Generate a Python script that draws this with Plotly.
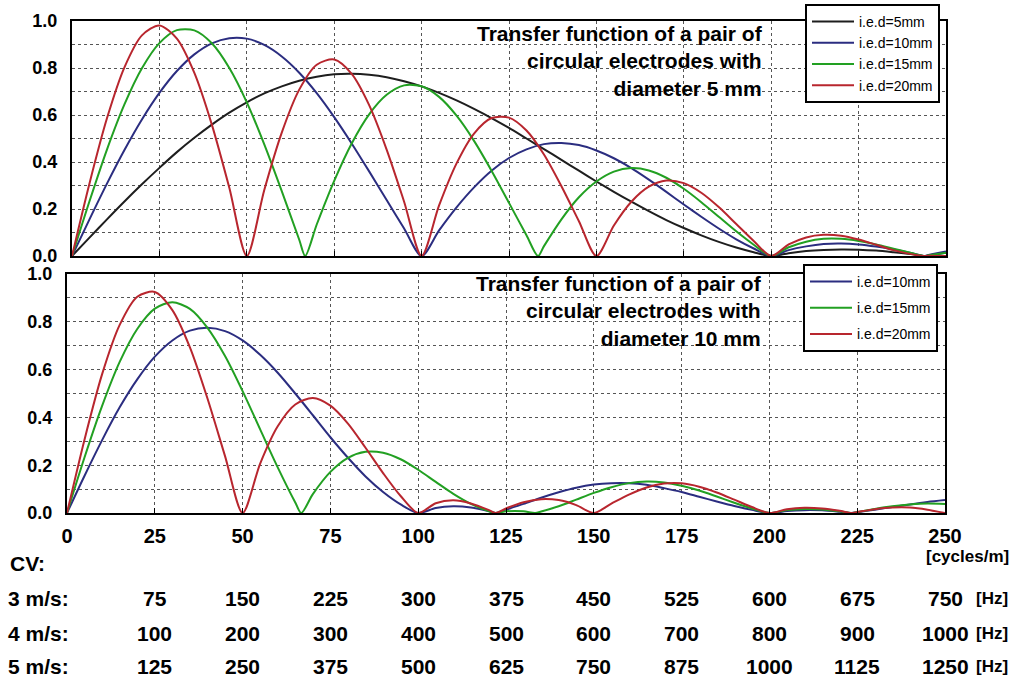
import plotly.graph_objects as go

# ---------------- data ----------------
# Top panel: electrode diameter 5 mm
k_top = [0, 5, 10, 15, 20, 25, 30, 35, 40, 45, 50, 55, 60, 65, 70, 75, 80, 85, 90, 95,
         100, 105, 110, 115, 120, 125, 130, 135, 140, 145, 150, 155, 160, 165, 170, 175,
         180, 185, 190, 195, 200, 205, 210, 215, 220, 225, 230, 235, 240, 244, 245, 250]
k_top_green = [0, 5, 10, 15, 20, 25, 30, 35, 40, 45, 50, 55, 60, 65, 66.7, 70, 75, 80, 85, 90, 95,
               100, 105, 110, 115, 120, 125, 130, 133.3, 135, 140, 145, 150, 155, 160, 165, 170, 175,
               180, 185, 190, 195, 200, 205, 210, 215, 220, 225, 230, 235, 240, 244, 245, 250]

top_ied5 = [0, .078, .156, .232, .305, .375, .442, .503, .559, .610, .654, .692, .722, .746, .763, .773,
            .775, .771, .761, .744, .722, .694, .662, .626, .587, .545, .500, .455, .409, .363, .317,
            .273, .231, .191, .153, .119, .088, .060, .036, .016, 0, .012, .021, .026, .028, .027,
            .023, .016, .008, 0, .002, .014]
top_ied10 = [0, .156, .308, .451, .581, .694, .787, .858, .905, .927, .925, .898, .849, .780, .693, .591,
             .479, .360, .238, .117, 0, .109, .207, .292, .363, .417, .454, .476, .481, .472, .449,
             .416, .374, .325, .273, .219, .167, .117, .071, .032, 0, .025, .041, .051, .053, .049,
             .040, .028, .013, 0, .004, .019]
top_ied15 = [0, .233, .453, .645, .799, .906, .961, .960, .905, .800, .654, .475, .276, .069, 0, .134,
             .320, .479, .603, .686, .726, .722, .677, .597, .490, .363, .226, .088, 0, .042, .156,
             .250, .317, .359, .374, .364, .333, .286, .229, .167, .105, .048, 0, .037, .061, .073,
             .073, .064, .049, .031, .013, 0, .003, .014]
top_ied20 = [0, .309, .586, .803, .939, .981, .925, .779, .559, .290, 0, .281, .525, .708, .814, .836,
             .775, .642, .453, .231, 0, .215, .394, .521, .587, .589, .534, .432, .297, .148, 0,
             .130, .231, .295, .321, .310, .269, .208, .136, .064, 0, .049, .079, .090, .086, .070,
             .048, .025, .008, 0, .001, 0]

# Bottom panel: electrode diameter 10 mm
k_bot = [0, 5, 10, 15, 20, 25, 30, 35, 40, 45, 50, 55, 60, 65, 70, 75, 80, 85, 90, 95,
         100, 105, 110, 115, 120, 122, 125, 130, 135, 140, 145, 150, 155, 160, 165, 170, 175,
         180, 185, 190, 195, 200, 205, 210, 215, 220, 223.3, 225, 230, 235, 240, 245, 250]
k_bot_green = [0, 5, 10, 15, 20, 25, 30, 35, 40, 45, 50, 55, 60, 65, 66.7, 70, 75, 80, 85, 90, 95,
               100, 105, 110, 115, 120, 122, 125, 130, 133.3, 135, 140, 145, 150, 155, 160, 165, 170, 175,
               180, 185, 190, 195, 200, 205, 210, 215, 220, 223.3, 225, 230, 235, 240, 245, 250]

bot_ied10 = [0, .156, .305, .442, .559, .654, .722, .763, .775, .761, .722, .662, .587, .500, .409, .317,
             .231, .153, .088, .036, 0, .021, .028, .023, .008, 0, .014, .038, .064, .087, .106, .119,
             .125, .125, .118, .104, .088, .068, .048, .029, .013, 0, .008, .012, .011, .005, 0,
             .003, .014, .025, .036, .046, .054]
bot_ied15 = [0, .233, .448, .632, .770, .855, .882, .854, .775, .657, .510, .350, .191, .044, 0, .079,
             .172, .231, .256, .252, .225, .181, .130, .080, .038, .008, 0, .007, .007, 0, .006, .028,
             .056, .084, .108, .125, .132, .128, .114, .094, .069, .043, .019, 0, .012, .017, .015,
             .007, 0, .004, .017, .028, .036, .040, .038]
bot_ied20 = [0, .308, .581, .787, .905, .925, .849, .693, .479, .238, 0, .207, .363, .454, .481, .449,
             .374, .273, .167, .071, 0, .041, .053, .040, .013, 0, .019, .045, .058, .054, .033, 0,
             .039, .077, .107, .123, .124, .110, .086, .056, .025, 0, .016, .022, .019, .009, 0,
             .004, .016, .023, .023, .014, 0]

# Axis ticks and conversion table
x_ticks = [0, 25, 50, 75, 100, 125, 150, 175, 200, 225, 250]
y_ticks = [0.0, 0.2, 0.4, 0.6, 0.8, 1.0]
table_k = [25, 50, 75, 100, 125, 150, 175, 200, 225, 250]
cv_rows = ["3 m/s:", "4 m/s:", "5 m/s:"]
hz_3ms = [75, 150, 225, 300, 375, 450, 525, 600, 675, 750]
hz_4ms = [100, 200, 300, 400, 500, 600, 700, 800, 900, 1000]
hz_5ms = [125, 250, 375, 500, 625, 750, 875, 1000, 1125, 1250]

legend_names_top = ["i.e.d=5mm", "i.e.d=10mm", "i.e.d=15mm", "i.e.d=20mm"]
legend_names_bot = ["i.e.d=10mm", "i.e.d=15mm", "i.e.d=20mm"]

# ---------------- style ----------------
W, H = 1014, 686
C_BLACK = "#1e1e1e"
C_BLUE = "#2b2d80"
C_GREEN = "#22a022"
C_RED = "#b8262e"
BOLD = "Liberation Sans, Arial, Helvetica, sans-serif"
NARROW = "Liberation Sans Narrow, Liberation Sans, Arial Narrow, sans-serif"


def px_x(p):
    return p / W


def px_y(p):
    return 1 - p / H


fig = go.Figure()

top_series = [(k_top, top_ied5, C_BLACK), (k_top, top_ied10, C_BLUE),
              (k_top_green, top_ied15, C_GREEN), (k_top, top_ied20, C_RED)]
for (xs, ys, col), name in zip(top_series, legend_names_top):
    fig.add_trace(go.Scatter(x=xs, y=ys, mode="lines", name=name,
                             line=dict(color=col, width=2, shape="spline", smoothing=0.8),
                             xaxis="x", yaxis="y", legend="legend"))

bot_series = [(k_bot, bot_ied10, C_BLUE), (k_bot_green, bot_ied15, C_GREEN),
              (k_bot, bot_ied20, C_RED)]
for i, ((xs, ys, col), name) in enumerate(zip(bot_series, legend_names_bot)):
    fig.add_trace(go.Scatter(x=xs, y=ys, mode="lines", name=name,
                             line=dict(color=col, width=2, shape="spline", smoothing=0.8),
                             xaxis="x2", yaxis="y2", legend="legend2",
                             legendgroup="g%d" % i))

grid = dict(showgrid=True, gridcolor="#555555", griddash="dot", gridwidth=1,
            showline=True, linecolor="black", linewidth=2, mirror=True, zeroline=False,
            automargin=False)

xcommon = dict(range=[0, 250], tickvals=x_ticks, ticks="inside", ticklen=5,
               tickcolor="black", **grid)
ycommon = dict(range=[0, 1], tickvals=y_ticks, ticktext=["%.1f" % v for v in y_ticks],
               ticks="", minor=dict(dtick=0.1, showgrid=True, gridcolor="#555555",
                                    griddash="dot", gridwidth=1),
               tickfont=dict(family=BOLD, size=18, color="black", weight="bold"),
               ticklabelstandoff=9, **grid)

fig.update_layout(
    width=W, height=H, margin=dict(l=0, r=0, t=0, b=0, autoexpand=False),
    paper_bgcolor="white", plot_bgcolor="white",
    xaxis=dict(domain=[px_x(72), px_x(946)], anchor="y", showticklabels=False, **xcommon),
    yaxis=dict(domain=[px_y(256), px_y(21)], anchor="x", **ycommon),
    xaxis2=dict(domain=[px_x(67), px_x(945)], anchor="y2", showticklabels=True,
                tickfont=dict(family=BOLD, size=20, color="black", weight="bold"),
                ticklabelstandoff=4, **xcommon),
    yaxis2=dict(domain=[px_y(513), px_y(274)], anchor="x2", **ycommon),
    legend=dict(x=px_x(805), y=px_y(4), xanchor="left", yanchor="top", itemwidth=42,
                bgcolor="white", bordercolor="black", borderwidth=2, tracegroupgap=0,
                font=dict(family=NARROW, size=14, color="black")),
    legend2=dict(x=px_x(803), y=px_y(264), xanchor="left", yanchor="top", itemwidth=42,
                 bgcolor="white", bordercolor="black", borderwidth=2, tracegroupgap=5,
                 font=dict(family=NARROW, size=14, color="black")),
    showlegend=True,
)

ann = []
title_font = dict(family=BOLD, size=21, color="black", weight="bold")
ann.append(dict(text="Transfer function of a pair of<br>circular electrodes with<br>diameter 5 mm",
                xref="paper", yref="paper", x=px_x(765), y=px_y(61), xanchor="right",
                yanchor="middle", align="right", showarrow=False, font=title_font))
ann.append(dict(text="Transfer function of a pair of<br>circular electrodes with<br>diameter 10 mm",
                xref="paper", yref="paper", x=px_x(764), y=px_y(311), xanchor="right",
                yanchor="middle", align="right", showarrow=False, font=title_font))

tfont = dict(family=BOLD, size=21, color="black", weight="bold")
ann.append(dict(text="CV:", xref="paper", yref="paper", x=px_x(8), y=px_y(563),
                xanchor="left", yanchor="middle", showarrow=False, font=tfont))
ann.append(dict(text="[cycles/m]", xref="paper", yref="paper", x=px_x(1011), y=px_y(556),
                xanchor="right", yanchor="middle", showarrow=False,
                font=dict(family=BOLD, size=17, color="black", weight="bold")))
row_y = [598, 633, 666]
for label, vals, yy in zip(cv_rows, [hz_3ms, hz_4ms, hz_5ms], row_y):
    ann.append(dict(text=label, xref="paper", yref="paper", x=px_x(6), y=px_y(yy),
                    xanchor="left", yanchor="middle", showarrow=False, font=tfont))
    for kv, hv in zip(table_k, vals):
        ann.append(dict(text=str(hv), xref="x2", yref="paper", x=kv, y=px_y(yy),
                        xanchor="center", yanchor="middle", showarrow=False, font=tfont))
    ann.append(dict(text="[Hz]", xref="paper", yref="paper", x=px_x(992), y=px_y(yy),
                    xanchor="center", yanchor="middle", showarrow=False,
                    font=dict(family=BOLD, size=17, color="black", weight="bold")))

fig.update_layout(annotations=ann)
fig.write_html("out.html", config={"displayModeBar": False},
               post_script="document.body.style.margin='0';document.body.style.overflow='hidden';")
